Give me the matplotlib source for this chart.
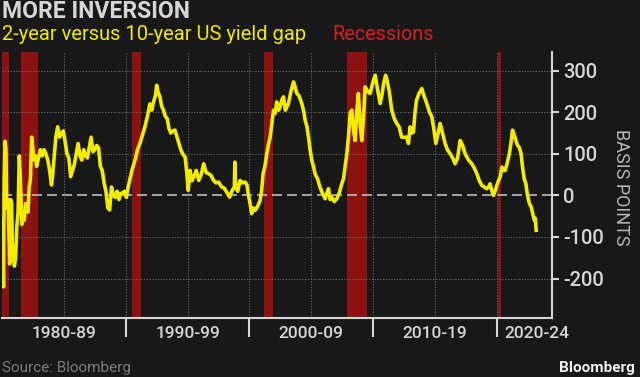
import matplotlib
matplotlib.use("Agg")
import matplotlib.pyplot as plt

# 2y vs 10y spread, basis points
years = [
  1980.05, 1980.12, 1980.18, 1980.25, 1980.32, 1980.38, 1980.45, 1980.52,
  1980.62, 1980.70, 1980.78, 1980.85, 1980.92, 1981.00, 1981.10, 1981.20,
  1981.30, 1981.40, 1981.50, 1981.60, 1981.70, 1981.80, 1981.90, 1982.00,
  1982.10, 1982.20, 1982.30, 1982.40, 1982.50, 1982.60, 1982.70, 1982.80,
  1982.95, 1983.10, 1983.25, 1983.40, 1983.55, 1983.70, 1983.85, 1984.00,
  1984.10, 1984.20, 1984.35, 1984.50, 1984.65, 1984.80, 1984.95, 1985.10,
  1985.25, 1985.40, 1985.55, 1985.70, 1985.85, 1986.00, 1986.15, 1986.30,
  1986.45, 1986.60, 1986.75, 1986.90, 1987.05, 1987.20, 1987.35, 1987.50,
  1987.65, 1987.80, 1987.95, 1988.10, 1988.25, 1988.40, 1988.55, 1988.70,
  1988.85, 1989.00, 1989.15, 1989.30, 1989.45, 1989.60, 1989.75, 1989.90,
  1990.05, 1990.20, 1990.35, 1990.50, 1990.65, 1990.80, 1990.95, 1991.15,
  1991.35, 1991.55, 1991.75, 1991.95, 1992.10, 1992.25, 1992.40, 1992.50,
  1992.60, 1992.77, 1992.90, 1993.05, 1993.20, 1993.35, 1993.50, 1993.65,
  1993.80, 1993.98, 1994.15, 1994.30, 1994.45, 1994.60, 1994.80, 1994.95,
  1995.05, 1995.20, 1995.35, 1995.50, 1995.70, 1995.90, 1996.10, 1996.30,
  1996.50, 1996.70, 1996.90, 1997.10, 1997.30, 1997.50, 1997.76, 1997.95,
  1998.16, 1998.40, 1998.60, 1998.78, 1998.82, 1998.88, 1999.05, 1999.24,
  1999.45, 1999.65, 1999.80, 1999.90, 2000.05, 2000.18, 2000.32, 2000.45,
  2000.60, 2000.75, 2000.86, 2000.98, 2001.10, 2001.25, 2001.40, 2001.55,
  2001.67, 2001.80, 2001.94, 2002.07, 2002.20, 2002.35, 2002.48, 2002.62,
  2002.75, 2002.90, 2003.15, 2003.35, 2003.56, 2003.70, 2003.83, 2004.00,
  2004.23, 2004.40, 2004.50, 2004.65, 2004.77, 2004.90, 2005.04, 2005.17,
  2005.30, 2005.50, 2005.70, 2005.90, 2006.12, 2006.25, 2006.39, 2006.52,
  2006.65, 2006.85, 2007.06, 2007.25, 2007.46, 2007.60, 2007.73, 2007.87,
  2008.00, 2008.15, 2008.27, 2008.40, 2008.54, 2008.67, 2008.80, 2008.95,
  2009.08, 2009.20, 2009.35, 2009.55, 2009.75, 2009.95, 2010.16, 2010.35,
  2010.56, 2010.70, 2010.85, 2011.00, 2011.10, 2011.30, 2011.50, 2011.70,
  2011.90, 2012.10, 2012.30, 2012.50, 2012.70, 2012.85, 2012.98, 2013.12,
  2013.25, 2013.38, 2013.50, 2013.70, 2013.93, 2014.10, 2014.33, 2014.55,
  2014.74, 2014.90, 2015.06, 2015.25, 2015.41, 2015.60, 2015.81, 2016.00,
  2016.22, 2016.42, 2016.62, 2016.82, 2017.03, 2017.23, 2017.43, 2017.70,
  2017.97, 2018.18, 2018.38, 2018.58, 2018.78, 2018.98, 2019.18, 2019.32,
  2019.45, 2019.60, 2019.72, 2019.85, 2019.99, 2020.12, 2020.26, 2020.40,
  2020.55, 2020.67, 2020.85, 2021.00, 2021.13, 2021.26, 2021.40, 2021.53,
  2021.67, 2021.80, 2021.95, 2022.07, 2022.20, 2022.34, 2022.42, 2022.50,
  2022.63, 2022.77, 2022.90, 2023.03, 2023.10, 2023.17,
]
spread = [
  -60, -220, 40, 130, 110, -30, -10, -40,
  -165, -10, -20, -155, -120, -170, -150, -75,
  -40, 95, 30, -70, -40, -60, -20, -20,
  -40, 20, 40, 140, 110, 85, 95, 70,
  90, 110, 95, 110, 100, 85, 60, 25,
  50, 85, 140, 165, 140, 150, 155, 130,
  100, 90, 45, 60, 75, 100, 125, 95,
  85, 110, 95, 90, 115, 140, 105, 110,
  120, 115, 70, 60, 30, 10, -30, -35,
  20, 0, -5, 10, -10, 5, 5, 10,
  -5, 20, 40, 60, 75, 90, 110, 125,
  145, 165, 190, 220, 205, 225, 240, 265,
  250, 237, 215, 205, 190, 185, 160, 150,
  155, 157, 140, 125, 110, 100, 92, 50,
  12, 60, 35, 44, 60, 36, 50, 76,
  55, 52, 48, 36, 30, 32, 20, 18,
  8, -4, 12, 20, 80, 20, 10, 36,
  30, 32, 25, 4, -20, -44, -30, -36,
  -30, -20, -12, 10, 52, 70, 100, 125,
  140, 170, 205, 197, 225, 205, 213, 230,
  237, 205, 221, 250, 273, 260, 245, 240,
  221, 200, 181, 165, 140, 110, 84, 70,
  52, 40, 20, 5, -8, 5, 16, -10,
  -4, -15, -8, 5, 28, 40, 68, 100,
  140, 200, 205, 160, 132, 200, 245, 170,
  132, 180, 261, 250, 245, 270, 289, 255,
  221, 240, 270, 289, 280, 250, 205, 185,
  173, 165, 140, 140, 140, 125, 165, 150,
  152, 200, 229, 245, 257, 240, 221, 200,
  189, 160, 125, 150, 173, 150, 125, 110,
  100, 90, 76, 90, 132, 120, 100, 85,
  76, 65, 52, 35, 24, 20, 16, 20,
  28, 10, 0, 10, 24, 35, 44, 68,
  60, 60, 80, 100, 125, 157, 145, 132,
  120, 116, 100, 68, 40, 28, 10, -4,
  -20, -28, -45, -60, -55, -84,
]

# Recession bands (start, end)
rec_start = [1980.0, 1981.5, 1990.5, 2001.2, 2007.92, 2020.1]
rec_end = [1980.55, 1982.9, 1991.2, 2001.87, 2009.5, 2020.3]

decade_edges = [1990, 2000, 2010, 2020]
decade_labels = ["1980-89", "1990-99", "2000-09", "2010-19", "2020-24"]
decade_mid = [1985, 1995, 2005, 2015, 2023.2]

yticks = [300, 200, 100, 0, -100, -200]

bg = "#181818"
yellow = "#f2ec00"
red = "#8c1212"
light = "#d6d6d6"

plt.rcParams["font.family"] = ["Roboto", "DejaVu Sans"]

fig = plt.figure(figsize=(6.4, 3.77), dpi=100, facecolor=bg)
ax = fig.add_axes([2 / 640, 1 - 318 / 377, 550 / 640, 266 / 377])
ax.set_facecolor(bg)

for s, e in zip(rec_start, rec_end):
  ax.axvspan(s, e, color=red, lw=0, zorder=1)

# Grid
for v in yticks:
  if v == 0:
    ax.axhline(0, color="#bdbdbd", lw=1.2, ls=(0, (6, 3)), zorder=2)
  else:
    ax.axhline(v, color="#6a6a6a", lw=0.8, ls=(0, (1, 1.5)), zorder=2)
for x in [1985, 1990, 1995, 2000, 2005, 2010, 2015, 2020]:
  ax.axvline(x, color="#6a6a6a", lw=0.8, ls=(0, (1, 1.5)), zorder=2)

ax.plot(years, spread, color=yellow, lw=2.6, zorder=3)

ax.set_xlim(1980, 2024.45)
ax.set_ylim(-295, 345)

for side in ["top", "left"]:
  ax.spines[side].set_visible(False)
ax.spines["right"].set_color(light)
ax.spines["bottom"].set_color(light)
ax.spines["right"].set_linewidth(1.5)
ax.spines["bottom"].set_linewidth(1.5)

ax.yaxis.tick_right()
ax.set_yticks(yticks)
ax.set_yticklabels([str(v) for v in yticks])
ax.tick_params(axis="y", colors=light, labelcolor=light, labelsize=14.5,
               length=5, width=1.5, pad=3)
for lbl in ax.get_yticklabels():
  lbl.set_fontweight("medium")

ax.set_xticks(decade_edges)
ax.set_xticklabels([])
ax.tick_params(axis="x", colors=light, length=14, width=1.5)
for m, lab in zip(decade_mid, decade_labels):
  ax.text(m, -0.06, lab, transform=ax.get_xaxis_transform(), ha="center",
          va="center", color=light, fontsize=12.5, fontweight="medium")

fig.text(621 / 640, 1 - 187 / 377, "BASIS POINTS", rotation=270, ha="center",
         va="center", color="#b8b8b8", fontsize=13)

fig.text(2 / 640, 1 - 11 / 377, "MORE INVERSION", ha="left", va="center",
         color=light, fontsize=16.5, fontweight="bold")
fig.text(2 / 640, 1 - 34 / 377, "2-year versus 10-year US yield gap", ha="left",
         va="center", color=yellow, fontsize=14.5)
fig.text(332 / 640, 1 - 34 / 377, "Recessions", ha="left", va="center",
         color="#d42020", fontsize=14.3)

fig.text(2 / 640, 1 - 368 / 377, "Source: Bloomberg", ha="left", va="center",
         color="#7a7a7a", fontsize=11)
fig.text(635 / 640, 1 - 368 / 377, "Bloomberg", ha="right", va="center",
         color="#f0f0f0", fontsize=11, fontweight="bold")

fig.savefig("out.png", dpi=100, facecolor=bg)
